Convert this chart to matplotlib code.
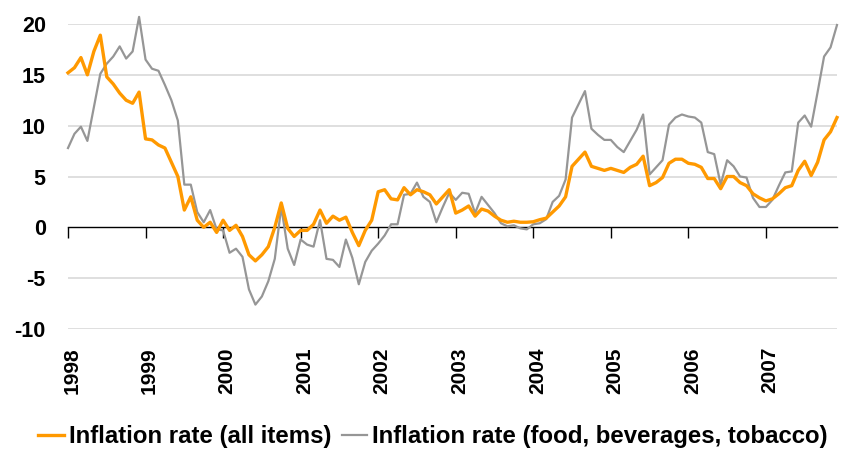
import matplotlib
matplotlib.use("Agg")
import matplotlib.pyplot as plt
import numpy as np
from matplotlib.transforms import ScaledTranslation

years = ["1998", "1999", "2000", "2001", "2002", "2003", "2004", "2005", "2006", "2007"]
series_names = ["Inflation rate (all items)", "Inflation rate (food, beverages, tobacco)"]

all_items = [
    15.2, 15.7, 16.7, 15.0, 17.3, 18.9, 14.8, 14.1, 13.2, 12.5, 12.2, 13.3,
    8.7, 8.6, 8.1, 7.8, 6.4, 5.0, 1.7, 3.0, 0.7, 0.0, 0.5, -0.5,
    0.7, -0.3, 0.2, -0.9, -2.7, -3.3, -2.7, -1.9, 0.0, 2.4, -0.1, -0.9,
    -0.3, -0.3, 0.3, 1.7, 0.4, 1.1, 0.7, 1.0, -0.5, -1.8, -0.3, 0.7,
    3.5, 3.7, 2.8, 2.7, 3.9, 3.2, 3.7, 3.5, 3.2, 2.3, 3.0, 3.7,
    1.4, 1.7, 2.1, 1.1, 1.8, 1.6, 1.1, 0.7, 0.5, 0.6, 0.5, 0.5,
    0.55, 0.75, 0.9, 1.5, 2.1, 3.0, 6.0, 6.7, 7.4, 6.0, 5.8, 5.6,
    5.8, 5.6, 5.4, 5.9, 6.2, 7.0, 4.1, 4.4, 4.9, 6.3, 6.7, 6.7,
    6.3, 6.2, 5.9, 4.8, 4.8, 3.8, 5.0, 5.0, 4.4, 4.1, 3.3, 2.9,
    2.6, 2.8, 3.3, 3.9, 4.1, 5.6, 6.5, 5.1, 6.4, 8.6, 9.4, 10.8,
]

food = [
    7.8, 9.2, 9.9, 8.5, 11.8, 15.1, 16.1, 16.8, 17.8, 16.6, 17.3, 20.7,
    16.5, 15.6, 15.4, 14.0, 12.5, 10.5, 4.2, 4.2, 1.5, 0.5, 1.7, -0.2,
    -0.3, -2.5, -2.1, -2.9, -6.1, -7.6, -6.8, -5.3, -3.1, 2.0, -2.1, -3.7,
    -1.2, -1.7, -1.9, 0.7, -3.1, -3.2, -3.9, -1.2, -3.0, -5.6, -3.4, -2.3,
    -1.6, -0.8, 0.3, 0.3, 3.2, 3.3, 4.4, 3.0, 2.5, 0.5, 2.0, 3.4,
    2.7, 3.4, 3.3, 1.4, 3.0, 2.2, 1.4, 0.4, 0.1, 0.2, -0.1, -0.2,
    0.3, 0.4, 0.8, 2.5, 3.1, 4.7, 10.8, 12.1, 13.4, 9.7, 9.1, 8.6,
    8.6, 7.9, 7.4, 8.5, 9.6, 11.1, 5.2, 5.9, 6.6, 10.1, 10.8, 11.1,
    10.9, 10.8, 10.3, 7.4, 7.2, 4.2, 6.6, 6.0, 5.0, 4.9, 2.9, 2.0,
    2.0, 2.7, 4.1, 5.4, 5.5, 10.3, 11.0, 9.9, 13.3, 16.8, 17.7, 19.9,
]

yticks = [-10, -5, 0, 5, 10, 15, 20]

W, H = 845, 454
fig = plt.figure(figsize=(W / 100, H / 100), dpi=100)
ax = fig.add_axes([68 / W, (H - 329) / H, (837 - 68) / W, (329 - 24) / H])

x = np.arange(len(all_items))
orange = "#FF9900"
grey = "#969696"

for yv in yticks:
    if yv != 0:
        ax.axhline(yv, color="#D9D9D9", lw=1.2, zorder=0)

l2, = ax.plot(x, food, color=grey, lw=1.6, clip_on=False, zorder=3, label=series_names[1])
l1, = ax.plot(x, all_items, color=orange, lw=2.4, clip_on=False, zorder=4, label=series_names[0])

ax.set_xlim(0, len(all_items) - 1)
ax.set_ylim(-10, 20)
ax.set_yticks(yticks)
ax.set_yticklabels([str(v) for v in yticks], fontsize=15.5, fontweight="bold", family="Liberation Sans")
ax.tick_params(axis="y", length=0, pad=16)

for s in ["top", "right", "left"]:
    ax.spines[s].set_visible(False)
ax.spines["bottom"].set_position(("data", 0))
ax.spines["bottom"].set_color("black")
ax.spines["bottom"].set_linewidth(1.0)
year_pos = [12 * k for k in range(len(years))]
ax.set_xticks(year_pos)
ax.tick_params(axis="x", direction="out", length=8, width=1.0, labelbottom=False)

sec = ax.secondary_xaxis(0)
sec.set_xticks(year_pos)
sec.set_xticklabels(years, rotation=90, fontsize=15, fontweight="bold", family="Liberation Sans")
sec.tick_params(axis="x", length=0, pad=13)
sec.spines["bottom"].set_visible(False)
for lab in sec.get_xticklabels():
    lab.set_transform(lab.get_transform() + ScaledTranslation(4 / 100, 0, fig.dpi_scale_trans))

fig.legend(handles=[l1, l2], labels=series_names, loc="center", bbox_to_anchor=(433 / W, 1 - 437 / H),
           ncol=2, frameon=False, handlelength=1.05, handletextpad=0.2, columnspacing=0.45,
           prop={"family": "Liberation Sans", "weight": "bold", "size": 17.3})

fig.savefig("out.png", dpi=100)
